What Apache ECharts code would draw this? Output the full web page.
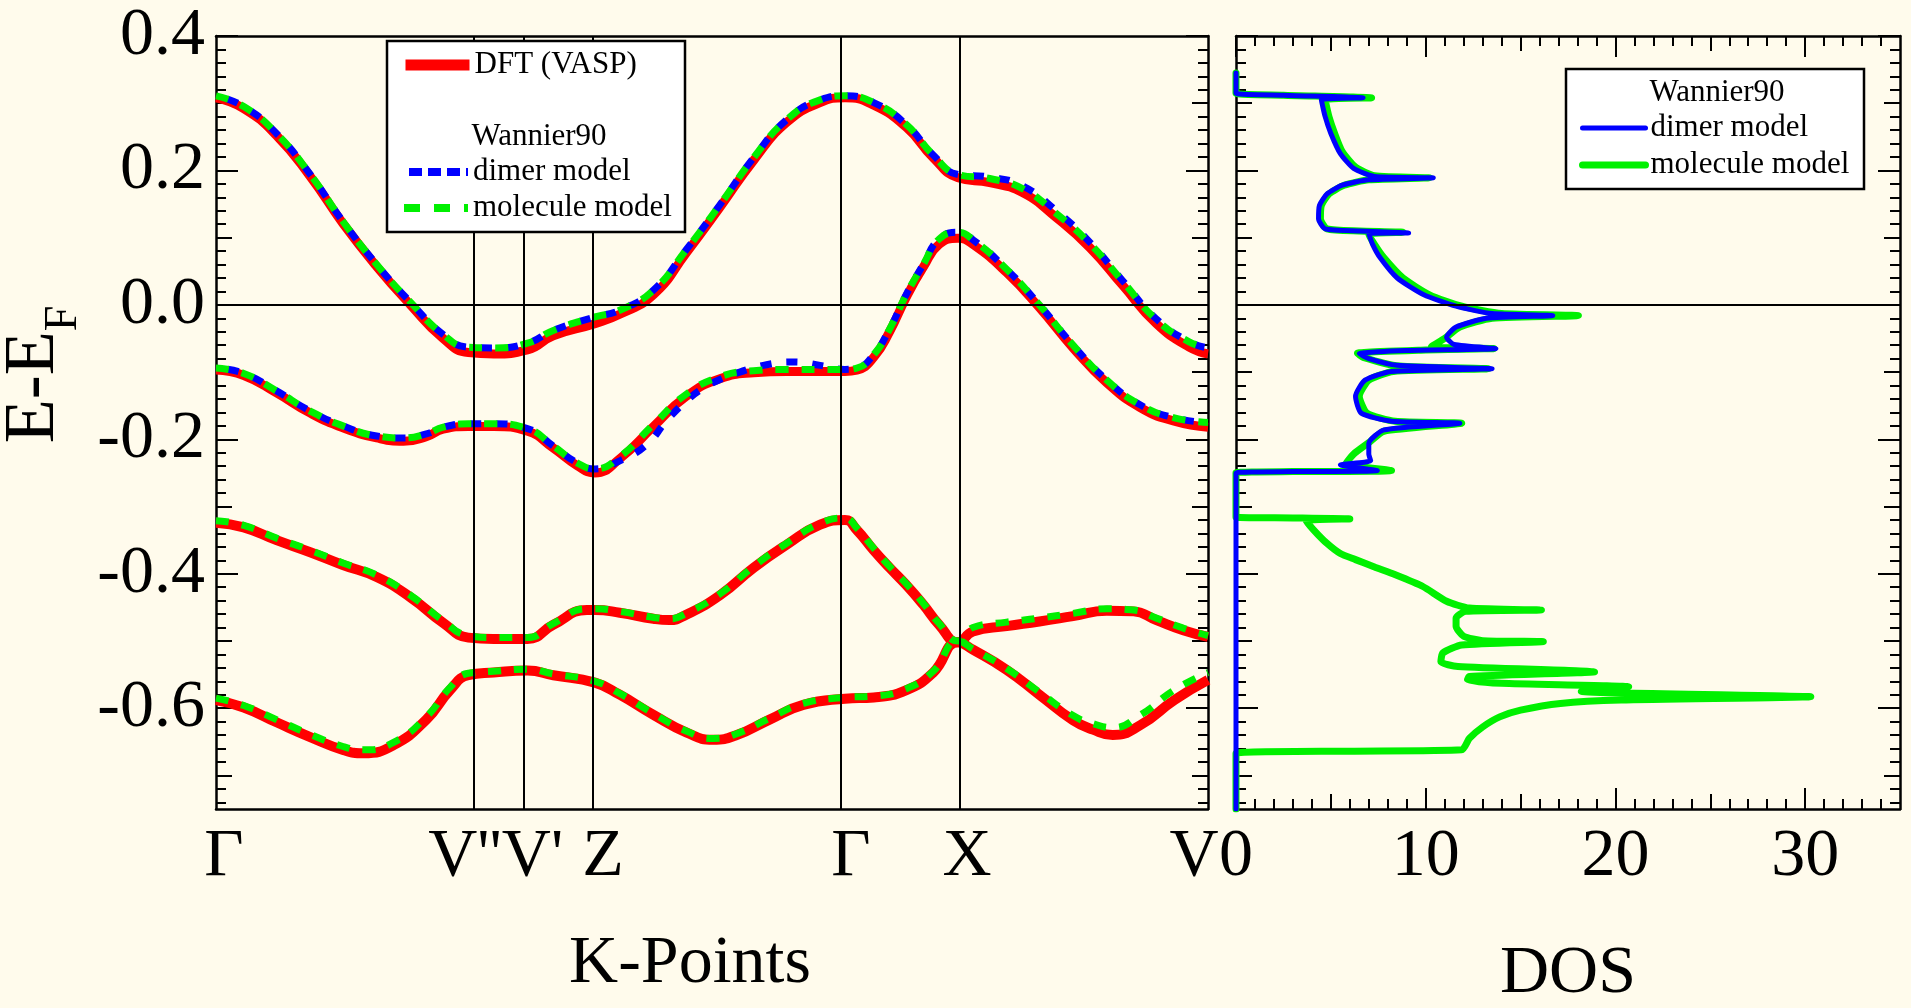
<!DOCTYPE html>
<html><head><meta charset="utf-8">
<script src="https://cdn.jsdelivr.net/npm/echarts@6/dist/echarts.min.js"></script>
<style>html,body{margin:0;padding:0;background:#fffbec;} #chart{width:1911px;height:1008px;}</style>
</head><body><div id="chart"></div>
<script>
const FONT = "'Liberation Serif', 'Times New Roman', Times, serif";
const BG = '#fffbec';

// ---- k-path (band structure x axis) ----
const kTicks  = [0, 0.255, 0.314, 0.382, 0.634, 0.748, 1.0];
const kLabels = ['Γ', "V''", "V'", 'Z', 'Γ', 'X', 'V'];

// ---- energy axis ----
const eMin = -0.75, eMax = 0.4;
const eLabelValues = [-0.6, -0.4, -0.2, 0.0, 0.2, 0.4];
const eMidTicks = [-0.7, -0.5, -0.3, -0.1, 0.1, 0.3];

// ---- DOS axis ----
const dosMin = 0, dosMax = 35;
const dosLabelValues = [0, 10, 20, 30];
const dosMidTicks = [5, 15, 25];

// ---- DFT (VASP) bands [k, E] ----
const dftBand1 = [[0,0.308],[0.028,0.292],[0.061,0.252],[0.095,0.191],[0.128,0.121],[0.162,0.057],[0.196,0.0],[0.229,-0.050],[0.2544,-0.071],[0.28,-0.073],[0.314,-0.067],[0.34,-0.046],[0.382,-0.028],[0.407,-0.014],[0.441,0.015],[0.474,0.077],[0.508,0.145],[0.542,0.215],[0.575,0.271],[0.609,0.301],[0.634,0.308],[0.663,0.297],[0.696,0.264],[0.723,0.219],[0.748,0.189],[0.78,0.182],[0.813,0.167],[0.847,0.130],[0.881,0.085],[0.914,0.029],[0.948,-0.028],[0.981,-0.063],[1.0,-0.073]];
const dftBand2 = [[0,-0.097],[0.028,-0.105],[0.061,-0.131],[0.095,-0.161],[0.128,-0.183],[0.162,-0.198],[0.189,-0.203],[0.212,-0.196],[0.229,-0.185],[0.2544,-0.181],[0.28,-0.181],[0.314,-0.188],[0.34,-0.213],[0.364,-0.239],[0.382,-0.250],[0.407,-0.229],[0.441,-0.181],[0.474,-0.136],[0.508,-0.110],[0.542,-0.101],[0.575,-0.099],[0.609,-0.099],[0.634,-0.099],[0.646,-0.097],[0.663,-0.078],[0.679,-0.040],[0.696,0.012],[0.713,0.056],[0.729,0.090],[0.748,0.099],[0.763,0.090],[0.797,0.048],[0.830,-0.004],[0.864,-0.064],[0.898,-0.116],[0.932,-0.153],[0.966,-0.173],[1.0,-0.182]];
const dftBand3 = [[0,-0.324],[0.028,-0.331],[0.061,-0.350],[0.095,-0.368],[0.128,-0.387],[0.162,-0.405],[0.196,-0.435],[0.229,-0.473],[0.2544,-0.495],[0.28,-0.497],[0.314,-0.497],[0.34,-0.476],[0.374,-0.454],[0.382,-0.454],[0.407,-0.458],[0.441,-0.467],[0.457,-0.469],[0.474,-0.461],[0.508,-0.432],[0.542,-0.391],[0.575,-0.357],[0.609,-0.327],[0.634,-0.320],[0.646,-0.335],[0.663,-0.365],[0.679,-0.391],[0.696,-0.417],[0.713,-0.446],[0.729,-0.476],[0.748,-0.502],[0.763,-0.486],[0.797,-0.478],[0.830,-0.471],[0.864,-0.463],[0.898,-0.455],[0.925,-0.456],[0.948,-0.469],[0.975,-0.484],[1.0,-0.494]];
const dftBand4 = [[0,-0.588],[0.028,-0.599],[0.061,-0.621],[0.095,-0.643],[0.128,-0.662],[0.1485,-0.667],[0.179,-0.655],[0.212,-0.617],[0.236,-0.573],[0.2544,-0.551],[0.28,-0.547],[0.314,-0.544],[0.34,-0.551],[0.382,-0.562],[0.407,-0.580],[0.441,-0.610],[0.474,-0.636],[0.501,-0.647],[0.525,-0.640],[0.558,-0.617],[0.592,-0.595],[0.634,-0.586],[0.663,-0.584],[0.696,-0.573],[0.723,-0.547],[0.748,-0.502],[0.763,-0.513],[0.797,-0.543],[0.830,-0.580],[0.864,-0.618],[0.884,-0.632],[0.904,-0.640],[0.932,-0.625],[0.966,-0.588],[1.0,-0.558]];

// ---- Wannier90 dimer model bands ----
const dimerBand1 = [[0,0.311],[0.028,0.295],[0.061,0.255],[0.095,0.194],[0.128,0.124],[0.162,0.060],[0.196,0.004],[0.229,-0.044],[0.2544,-0.063],[0.28,-0.064],[0.314,-0.057],[0.34,-0.038],[0.382,-0.018],[0.407,-0.008],[0.441,0.022],[0.474,0.082],[0.508,0.149],[0.542,0.219],[0.575,0.275],[0.609,0.305],[0.634,0.311],[0.663,0.301],[0.696,0.268],[0.723,0.223],[0.748,0.194],[0.78,0.190],[0.813,0.177],[0.847,0.140],[0.881,0.093],[0.914,0.036],[0.948,-0.021],[0.981,-0.055],[1.0,-0.064]];
const dimerBand2 = [[0,-0.094],[0.028,-0.102],[0.061,-0.128],[0.095,-0.158],[0.128,-0.180],[0.162,-0.195],[0.189,-0.198],[0.212,-0.192],[0.229,-0.182],[0.2544,-0.177],[0.28,-0.177],[0.314,-0.184],[0.34,-0.210],[0.364,-0.235],[0.382,-0.244],[0.407,-0.232],[0.434,-0.208],[0.455,-0.171],[0.478,-0.138],[0.4925,-0.123],[0.508,-0.111],[0.528,-0.100],[0.555,-0.089],[0.582,-0.085],[0.609,-0.090],[0.634,-0.096],[0.646,-0.094],[0.663,-0.074],[0.679,-0.036],[0.696,0.016],[0.713,0.060],[0.729,0.098],[0.748,0.108],[0.763,0.097],[0.797,0.053],[0.830,0.0],[0.864,-0.060],[0.898,-0.112],[0.932,-0.149],[0.966,-0.168],[1.0,-0.175]];

// ---- Wannier90 molecule model bands ----
const moleculeBand1 = [[0,0.311],[0.028,0.295],[0.061,0.255],[0.095,0.194],[0.128,0.124],[0.162,0.060],[0.196,0.004],[0.229,-0.044],[0.2544,-0.063],[0.28,-0.064],[0.314,-0.057],[0.34,-0.038],[0.382,-0.018],[0.407,-0.008],[0.441,0.022],[0.474,0.082],[0.508,0.149],[0.542,0.219],[0.575,0.275],[0.609,0.305],[0.634,0.311],[0.663,0.301],[0.696,0.268],[0.723,0.223],[0.748,0.194],[0.78,0.188],[0.813,0.173],[0.847,0.136],[0.881,0.091],[0.914,0.035],[0.948,-0.022],[0.981,-0.055],[1.0,-0.064]];
const moleculeBand2 = [[0,-0.094],[0.028,-0.102],[0.061,-0.128],[0.095,-0.158],[0.128,-0.180],[0.162,-0.195],[0.189,-0.198],[0.212,-0.192],[0.229,-0.182],[0.2544,-0.177],[0.28,-0.177],[0.314,-0.184],[0.34,-0.210],[0.364,-0.235],[0.382,-0.244],[0.407,-0.226],[0.441,-0.178],[0.474,-0.133],[0.508,-0.107],[0.542,-0.098],[0.575,-0.096],[0.609,-0.096],[0.634,-0.096],[0.646,-0.094],[0.663,-0.074],[0.679,-0.036],[0.696,0.016],[0.713,0.060],[0.729,0.098],[0.748,0.108],[0.763,0.097],[0.797,0.053],[0.830,0.0],[0.864,-0.060],[0.898,-0.112],[0.932,-0.149],[0.966,-0.168],[1.0,-0.175]];
const moleculeBand3 = [[0,-0.321],[0.028,-0.328],[0.061,-0.347],[0.095,-0.365],[0.128,-0.384],[0.162,-0.402],[0.196,-0.432],[0.229,-0.470],[0.2544,-0.492],[0.28,-0.495],[0.314,-0.495],[0.34,-0.474],[0.374,-0.452],[0.382,-0.452],[0.407,-0.456],[0.441,-0.465],[0.457,-0.467],[0.474,-0.459],[0.508,-0.430],[0.542,-0.389],[0.575,-0.355],[0.609,-0.325],[0.634,-0.317],[0.646,-0.332],[0.663,-0.362],[0.679,-0.389],[0.696,-0.415],[0.713,-0.444],[0.729,-0.474],[0.748,-0.500],[0.763,-0.480],[0.797,-0.472],[0.830,-0.466],[0.864,-0.459],[0.898,-0.452],[0.925,-0.454],[0.948,-0.466],[0.975,-0.481],[1.0,-0.492]];
const moleculeBand4 = [[0,-0.585],[0.028,-0.596],[0.061,-0.617],[0.095,-0.639],[0.128,-0.657],[0.1485,-0.662],[0.179,-0.651],[0.212,-0.613],[0.236,-0.569],[0.2544,-0.548],[0.28,-0.545],[0.314,-0.542],[0.34,-0.549],[0.382,-0.560],[0.407,-0.578],[0.441,-0.608],[0.474,-0.634],[0.501,-0.645],[0.525,-0.638],[0.558,-0.615],[0.592,-0.593],[0.634,-0.584],[0.663,-0.582],[0.696,-0.571],[0.723,-0.545],[0.748,-0.500],[0.763,-0.512],[0.797,-0.541],[0.830,-0.576],[0.864,-0.611],[0.884,-0.623],[0.904,-0.629],[0.932,-0.610],[0.966,-0.573],[1.0,-0.547]];

// ---- DOS curves [DOS, E] ----
const dimerDOS = [[0,0.345],[0,0.315],[2.5,0.312],[6.7,0.308],[4.5,0.305],[4.7,0.28],[5.0,0.255],[5.5,0.225],[6.2,0.203],[7.3,0.191],[10.4,0.189],[7.0,0.186],[5.6,0.178],[4.8,0.165],[4.4,0.148],[4.35,0.128],[4.7,0.113],[6.5,0.110],[9.1,0.107],[7.0,0.106],[7.2,0.09],[7.6,0.07],[8.5,0.04],[9.9,0.015],[11.6,-0.002],[13.5,-0.013],[16.7,-0.016],[13.2,-0.02],[11.6,-0.033],[11.1,-0.048],[11.5,-0.059],[13.7,-0.065],[9.0,-0.068],[6.5,-0.0725],[7.0,-0.08],[8.5,-0.090],[13.5,-0.095],[8.2,-0.099],[6.8,-0.112],[6.3,-0.136],[6.6,-0.161],[8.2,-0.173],[11.8,-0.176],[7.8,-0.186],[7.0,-0.206],[7.0,-0.222],[7.1,-0.232],[5.5,-0.238],[7.45,-0.2465],[3.0,-0.248],[0,-0.25],[0,-0.75]];
const moleculeDOS = [[0,0.345],[0,0.315],[2.5,0.312],[7.15,0.308],[4.7,0.305],[4.9,0.28],[5.2,0.255],[5.6,0.228],[6.3,0.205],[7.3,0.192],[10.2,0.189],[7.0,0.186],[5.7,0.178],[4.9,0.165],[4.5,0.148],[4.45,0.128],[4.8,0.113],[6.5,0.110],[8.8,0.108],[7.0,0.105],[7.3,0.09],[7.8,0.07],[8.8,0.04],[10.2,0.015],[11.9,-0.002],[14.0,-0.013],[18.05,-0.016],[13.5,-0.02],[11.8,-0.033],[11.0,-0.05],[10.3,-0.062],[13.6,-0.065],[10.0,-0.067],[6.4,-0.072],[6.7,-0.078],[8.6,-0.091],[13.3,-0.095],[8.3,-0.099],[7.0,-0.112],[6.5,-0.136],[6.9,-0.161],[8.4,-0.173],[11.9,-0.176],[7.8,-0.188],[7.0,-0.205],[6.2,-0.222],[5.8,-0.236],[8.2,-0.2465],[3.0,-0.248],[0,-0.25],[0,-0.316],[3.0,-0.317],[6.0,-0.3185],[3.7,-0.321],[4.1,-0.335],[4.8,-0.355],[5.5,-0.37],[6.3,-0.379],[7.3,-0.39],[8.4,-0.4016],[9.85,-0.419],[11.1,-0.441],[12.3,-0.451],[16.1,-0.454],[12.1,-0.456],[11.6,-0.466],[11.6,-0.478],[12.0,-0.493],[13.0,-0.4995],[16.2,-0.501],[11.9,-0.506],[10.9,-0.518],[10.8,-0.531],[11.7,-0.538],[18.9,-0.546],[12.3,-0.553],[12.2,-0.558],[14.0,-0.563],[20.7,-0.568],[18.2,-0.575],[30.3,-0.583],[20.3,-0.588],[17.1,-0.593],[15.0,-0.603],[13.9,-0.613],[13.0,-0.628],[12.3,-0.645],[11.9,-0.662],[6.0,-0.664],[0,-0.667],[0,-0.75]];

// ---------- helpers ----------
function range(a, b, step) { const out = []; const n = Math.round((b - a) / step); for (let i = 0; i <= n; i++) out.push(Math.round((a + i * step) * 1000) / 1000); return out; }
const eMinorTicks = range(-0.74, 0.38, 0.02);
const dosMinorTicks = range(1, 34, 1);

const black = '#000';
function tickAxis(base, pos, ticks, len, withLine) {
  return Object.assign({
    type: 'value', position: pos, offset: 0,
    axisLine: { show: !!withLine, onZero: false, lineStyle: { color: black, width: 2.5 } },
    axisTick: { show: true, inside: true, length: len, customValues: ticks, lineStyle: { color: black, width: 2 } },
    axisLabel: { show: false }, splitLine: { show: false }, silent: true
  }, base);
}

const yBase0 = { gridIndex: 0, min: eMin, max: eMax };
const yBase1 = { gridIndex: 1, min: eMin, max: eMax };
const xBase1 = { gridIndex: 1, min: dosMin, max: dosMax };

const yMain = tickAxis(yBase0, 'left', eLabelValues, 22, true);
yMain.axisLabel = { show: true, customValues: eLabelValues, formatter: v => v.toFixed(1), fontSize: 68, fontFamily: FONT, color: black, margin: 11 };
yMain.name = 'E-E{sub|F}';
yMain.nameLocation = 'middle';
yMain.nameGap = 144;
yMain.nameTextStyle = { fontSize: 72, fontFamily: FONT, color: black, padding: [0, 0, 0, 96],
  rich: { sub: { fontSize: 46, fontFamily: FONT, color: black, verticalAlign: 'bottom', lineHeight: 46, padding: [0, 0, -16, 0] } } };

const labelShift = [8, -4, 5, 8, 6, 9, -14];
const kRich = {};
labelShift.forEach((d, i) => { kRich['s' + i] = { fontSize: 68, fontFamily: FONT, color: black, padding: d >= 0 ? [0, 0, 0, 2 * d] : [0, -2 * d, 0, 0] }; });

const xMain = {
  type: 'value', gridIndex: 0, min: 0, max: 1, position: 'bottom',
  axisLine: { show: true, onZero: false, lineStyle: { color: black, width: 2.5 } },
  axisTick: { show: false }, splitLine: { show: false },
  axisLabel: { show: true, customValues: kTicks, margin: 14, fontSize: 68, fontFamily: FONT, color: black,
    formatter: v => { const i = kTicks.findIndex(k => Math.abs(k - v) < 1e-6); return i < 0 ? '' : '{s' + i + '|' + kLabels[i] + '}'; },
    rich: kRich },
  name: 'K-Points', nameLocation: 'middle', nameGap: 121,
  nameTextStyle: { fontSize: 68, fontFamily: FONT, color: black, padding: [0, 44, 0, 0] }
};
const xTop0 = { type: 'value', gridIndex: 0, min: 0, max: 1, position: 'top',
  axisLine: { show: true, onZero: false, lineStyle: { color: black, width: 2.5 } },
  axisTick: { show: false }, axisLabel: { show: false }, splitLine: { show: false } };

const xDos = tickAxis(xBase1, 'bottom', dosLabelValues, 21, true);
xDos.axisLabel = { show: true, customValues: dosLabelValues, fontSize: 68, fontFamily: FONT, color: black, margin: 14 };
xDos.name = 'DOS'; xDos.nameLocation = 'middle'; xDos.nameGap = 131;
xDos.nameTextStyle = { fontSize: 68, fontFamily: FONT, color: black };

const xAxes = [
  xMain, xTop0,
  xDos,
  tickAxis(xBase1, 'bottom', dosMidTicks, 15, false),
  tickAxis(xBase1, 'bottom', dosMinorTicks, 10, false),
  tickAxis(xBase1, 'top', dosLabelValues, 21, true),
  tickAxis(xBase1, 'top', dosMidTicks, 15, false),
  tickAxis(xBase1, 'top', dosMinorTicks, 10, false)
];
const yAxes = [
  yMain,
  tickAxis(yBase0, 'left', eMidTicks, 16, false),
  tickAxis(yBase0, 'left', eMinorTicks, 10, false),
  tickAxis(yBase0, 'right', eLabelValues, 22, true),
  tickAxis(yBase0, 'right', eMidTicks, 16, false),
  tickAxis(yBase0, 'right', eMinorTicks, 10, false),
  tickAxis(yBase1, 'left', eLabelValues, 22, true),
  tickAxis(yBase1, 'left', eMidTicks, 16, false),
  tickAxis(yBase1, 'left', eMinorTicks, 10, false),
  tickAxis(yBase1, 'right', eLabelValues, 22, true),
  tickAxis(yBase1, 'right', eMidTicks, 16, false),
  tickAxis(yBase1, 'right', eMinorTicks, 10, false)
];

const RED = '#ff0000', BLUE = '#0000ff', GREEN = '#00f000';
function band(name, data, color, width, type, z, dashOffset) {
  return { type: 'line', name, data, xAxisIndex: 0, yAxisIndex: 0, showSymbol: false, symbol: 'none',
    smooth: 0.5, z, silent: true,
    lineStyle: { color, width, type, dashOffset: dashOffset || 0, cap: 'butt', join: 'round' }, itemStyle: { color }, emphasis: { disabled: true } };
}
function dos(name, data, color, width, z) {
  return { type: 'line', name, data, xAxisIndex: 2, yAxisIndex: 6, showSymbol: false, symbol: 'none',
    smooth: 0.2, z, silent: true, lineStyle: { color, width, join: 'round', cap: 'round' }, itemStyle: { color }, emphasis: { disabled: true } };
}
const blueDash = [11, 15], greenDash = [13, 13];
const series = [
  // zero line under bands
  { type: 'line', name: 'zero0', data: [], xAxisIndex: 0, yAxisIndex: 0, z: 1, silent: true,
    markLine: { silent: true, symbol: 'none', animation: false, label: { show: false }, lineStyle: { color: black, width: 2, type: 'solid' }, emphasis: { disabled: true }, data: [{ yAxis: 0 }] } },
  band('DFT (VASP)', dftBand1, RED, 9, 'solid', 2),
  band('DFT (VASP)', dftBand2, RED, 9, 'solid', 2),
  band('DFT (VASP)', dftBand3, RED, 10, 'solid', 2),
  band('DFT (VASP)', dftBand4, RED, 10, 'solid', 2),
  band('dimer model', dimerBand1, BLUE, 7, blueDash, 3, 14),
  band('dimer model', dimerBand2, BLUE, 7, blueDash, 3, 14),
  band('molecule model', moleculeBand1, GREEN, 7, greenDash, 4),
  band('molecule model', moleculeBand2, GREEN, 7, greenDash, 4),
  band('molecule model', moleculeBand3, GREEN, 7, greenDash, 4),
  band('molecule model', moleculeBand4, GREEN, 7, greenDash, 4),
  // high-symmetry vertical lines above bands
  { type: 'line', name: 'kpath', data: [], xAxisIndex: 0, yAxisIndex: 0, z: 5, silent: true,
    markLine: { silent: true, symbol: 'none', animation: false, label: { show: false }, lineStyle: { color: black, width: 2, type: 'solid' }, emphasis: { disabled: true },
      data: kTicks.slice(1, -1).map(k => ({ xAxis: k })) } },
  { type: 'line', name: 'zero1', data: [], xAxisIndex: 2, yAxisIndex: 6, z: 1, silent: true,
    markLine: { silent: true, symbol: 'none', animation: false, label: { show: false }, lineStyle: { color: black, width: 2, type: 'solid' }, emphasis: { disabled: true }, data: [{ yAxis: 0 }] } },
  dos('molecule model DOS', moleculeDOS, GREEN, 7, 2),
  dos('dimer model DOS', dimerDOS, BLUE, 5, 3)
];

const legendText = { fontSize: 31, fontFamily: FONT, color: black, lineHeight: 36 };
const hiddenSymbol = { opacity: 0, borderWidth: 0 };
const option = {
  backgroundColor: BG,
  animation: false,
  textStyle: { fontFamily: FONT },
  grid: [
    { left: 216, top: 36, width: 992, height: 773, outerBoundsMode: 'none', containLabel: false },
    { left: 1236, top: 36, width: 664, height: 773, outerBoundsMode: 'none', containLabel: false }
  ],
  xAxis: xAxes,
  yAxis: yAxes,
  legend: [
    { data: [{ name: 'DFT (VASP)', lineStyle: { width: 11, color: RED } }], orient: 'vertical', left: 400, top: 47, padding: 0,
      itemWidth: 64, itemHeight: 14, itemGap: 0, textStyle: legendText, selectedMode: false, z: 60, itemStyle: hiddenSymbol },
    { data: [{ name: 'dimer model', lineStyle: { width: 8, color: BLUE, type: [13, 6] } },
             { name: 'molecule model', lineStyle: { width: 8, color: GREEN, type: [16, 14] } }],
      orient: 'vertical', left: 400, top: 154, padding: 0,
      itemWidth: 64, itemHeight: 14, itemGap: 0, textStyle: legendText, selectedMode: false, z: 60, itemStyle: hiddenSymbol },
    { data: [{ name: 'dimer model DOS', lineStyle: { width: 5, color: BLUE } },
             { name: 'molecule model DOS', lineStyle: { width: 7, color: GREEN } }],
      formatter: n => n.replace(' DOS', ''),
      orient: 'vertical', left: 1579, top: 110, padding: 0,
      itemWidth: 63, itemHeight: 14, itemGap: 1, textStyle: legendText, selectedMode: false, z: 60, itemStyle: hiddenSymbol }
  ],
  graphic: [
    { type: 'rect', z: 50, silent: true, shape: { x: 387, y: 41, width: 298, height: 191 }, style: { fill: '#ffffff', stroke: black, lineWidth: 2.5 } },
    { type: 'text', z: 61, silent: true, x: 539, y: 137, style: { text: 'Wannier90', fill: black, font: '31px ' + FONT, textAlign: 'center', textVerticalAlign: 'middle' } },
    { type: 'rect', z: 50, silent: true, shape: { x: 1566, y: 69, width: 298, height: 120 }, style: { fill: '#ffffff', stroke: black, lineWidth: 2.5 } },
    { type: 'text', z: 61, silent: true, x: 1717, y: 93, style: { text: 'Wannier90', fill: black, font: '31px ' + FONT, textAlign: 'center', textVerticalAlign: 'middle' } }
  ],
  series
};

const chart = echarts.init(document.getElementById('chart'), null, { renderer: 'canvas', width: 1911, height: 1008 });
chart.setOption(option);
</script>
</body></html>
